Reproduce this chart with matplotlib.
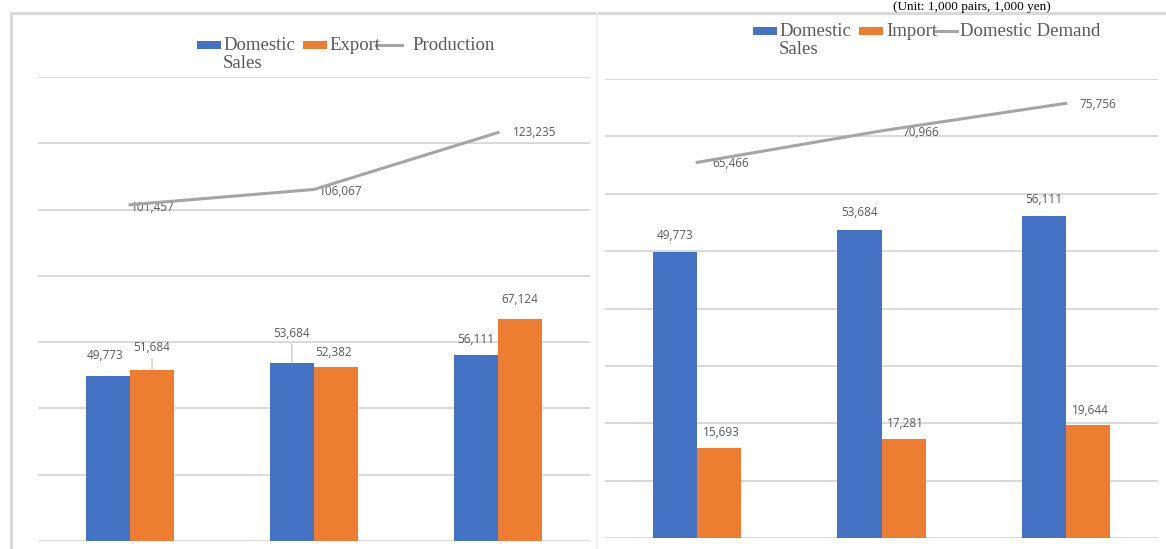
#!/usr/bin/env python3
"""Two-panel supply chart: production split and domestic demand split."""

import matplotlib
matplotlib.use("Agg")
import matplotlib.pyplot as plt
from matplotlib.patches import Rectangle
import numpy as np

# left panel: production = domestic sales + export
domestic_sales = [49773, 53684, 56111]
export = [51684, 52382, 67124]
production = [101457, 106067, 123235]

# right panel: domestic demand = domestic sales + import
imports = [15693, 17281, 19644]
domestic_demand = [65466, 70966, 75756]

BLUE = "#4472C4"
ORANGE = "#ED7D31"
GREY_LINE = "#A5A5A5"
GRID = "#D9D9D9"
TEXT = "#595959"

W, H = 1166, 549
LABEL_FONT = dict(family="Open Sans", fontsize=8.5, color=TEXT)
LEGEND_FONT = dict(family="Liberation Serif", fontsize=13.5, color=TEXT)

fig = plt.figure(figsize=(W / 100, H / 100), dpi=100)
fig.patch.set_facecolor("white")


def px_axes(x0, y0, x1, y1):
    """Axes placed by pixel edges (top-left origin)."""
    return fig.add_axes([x0 / W, 1 - y1 / H, (x1 - x0) / W, (y1 - y0) / H])


def style(ax, ymax, step):
    ax.set_xlim(-0.5, 2.5)
    ax.set_ylim(0, ymax)
    ax.set_yticks(np.arange(0, ymax + 1, step))
    ax.set_xticks([])
    ax.tick_params(length=0, labelleft=False)
    ax.grid(axis="y", color=GRID, linewidth=1.4)
    ax.set_axisbelow(True)
    for s in ax.spines.values():
        s.set_visible(False)


def label(ax, x, y, value, dx, dy, leader=False):
    kw = {}
    if leader:
        kw["arrowprops"] = dict(arrowstyle="-", color="#BFBFBF", lw=0.8,
                                shrinkA=1, shrinkB=0, relpos=(0.5, 0))
    ax.annotate(f"{value:,}", (x, y), xytext=(dx, dy), textcoords="offset pixels",
                ha="center", va="center", zorder=4, **kw, **LABEL_FONT)


x = np.arange(3)
bw = 0.24

# ---- left: domestic sales / export / production
ax1 = px_axes(38, 77, 590, 541)
style(ax1, 140000, 20000)
ax1.bar(x - bw / 2, domestic_sales, bw, color=BLUE, zorder=2)
ax1.bar(x + bw / 2, export, bw, color=ORANGE, zorder=2)
ax1.plot(x, production, color=GREY_LINE, linewidth=2.2, zorder=5)

ds_off = [(-3, 21, False), (0, 30, True), (0, 16, False)]
ex_off = [(0, 22, True), (-3, 15, False), (0, 19, False)]
for i in range(3):
    dx, dy, ld = ds_off[i]
    label(ax1, x[i] - bw / 2, domestic_sales[i], domestic_sales[i], dx, dy, ld)
    dx, dy, ld = ex_off[i]
    label(ax1, x[i] + bw / 2, export[i], export[i], dx, dy, ld)
for i, (dx, dy) in enumerate([(23, -3), (27, -2), (37, 0)]):
    label(ax1, x[i], production[i], production[i], dx, dy)

# ---- right: domestic sales / import / domestic demand
ax2 = px_axes(605, 79, 1158, 538)
style(ax2, 80000, 10000)
ax2.bar(x - bw / 2, domestic_sales, bw, color=BLUE, zorder=2)
ax2.bar(x + bw / 2, imports, bw, color=ORANGE, zorder=2)
ax2.plot(x, domestic_demand, color=GREY_LINE, linewidth=2.2, zorder=5)

for i in range(3):
    label(ax2, x[i] - bw / 2, domestic_sales[i], domestic_sales[i], 0, 17)
    label(ax2, x[i] + bw / 2, imports[i], imports[i], 2, 15)
for i, (dx, dy) in enumerate([(34, -1), (39, -2), (32, -1)]):
    label(ax2, x[i], domestic_demand[i], domestic_demand[i], dx, dy)

# ---- overlay in pixel coordinates: frame, legends, unit note
ov = fig.add_axes([0, 0, 1, 1], zorder=10)
ov.set_xlim(0, W)
ov.set_ylim(H, 0)
ov.axis("off")
ov.patch.set_alpha(0)

ov.plot([11, W], [13, 13], color=GRID, linewidth=2.2)
ov.plot([11, 11], [13, H], color=GRID, linewidth=2.2)
ov.plot([597, 597], [13, H], color="#EFEFEF", linewidth=1.2)


def legend_patch(x0, yc, color):
    ov.add_patch(Rectangle((x0, yc - 4), 24, 8, color=color, linewidth=0))


def legend_line(x0, x1, yc):
    ov.plot([x0, x1], [yc, yc], color=GREY_LINE, linewidth=2.2)


# left legend
legend_patch(197, 45, BLUE)
ov.text(223, 37, "Domestic\nSales", va="top", ha="left", linespacing=1.05,
        **LEGEND_FONT)
legend_patch(303, 45, ORANGE)
ov.text(329, 45, "Export", va="center", ha="left", **LEGEND_FONT)
legend_line(376, 402, 45)
ov.text(412, 45, "Production", va="center", ha="left", **LEGEND_FONT)

# right legend
legend_patch(753, 31, BLUE)
ov.text(779, 23, "Domestic\nSales", va="top", ha="left", linespacing=1.1,
        **LEGEND_FONT)
legend_patch(859, 31, ORANGE)
ov.text(886, 31, "Import", va="center", ha="left", **LEGEND_FONT)
legend_line(936, 957, 31)
ov.text(960, 31, "Domestic Demand", va="center", ha="left", **LEGEND_FONT)

# unit note along the top edge
ov.text(893, 10, "(Unit: 1,000 pairs, 1,000 yen)", va="baseline", ha="left",
        family="Liberation Serif", fontsize=9.5, color="black")

fig.savefig("out.png", dpi=100)
